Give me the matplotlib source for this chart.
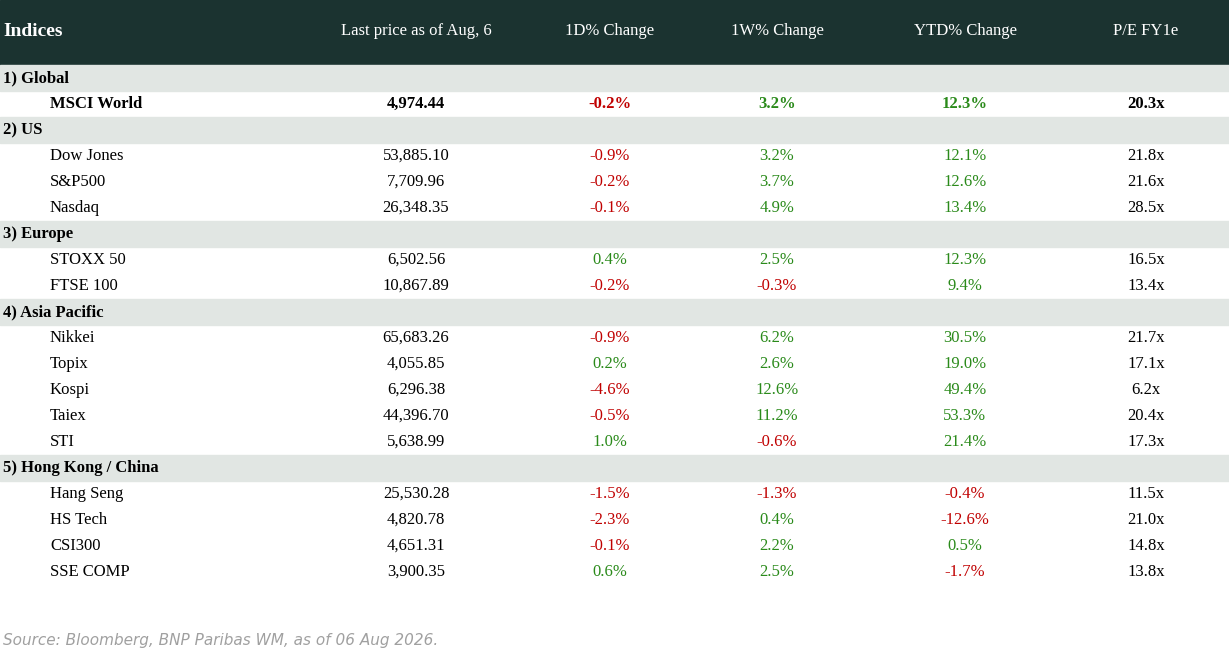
import matplotlib.pyplot as plt

plt.rcParams['font.family'] = ['Liberation Serif', 'DejaVu Serif']

headers = ['Indices', 'Last price as of Aug, 6', '1D% Change', '1W% Change', 'YTD% Change', 'P/E FY1e']
groups = ['1) Global', '2) US', '3) Europe', '4) Asia Pacific', '5) Hong Kong / China']
names = [['MSCI World'],
         ['Dow Jones', 'S&P500', 'Nasdaq'],
         ['STOXX 50', 'FTSE 100'],
         ['Nikkei', 'Topix', 'Kospi', 'Taiex', 'STI'],
         ['Hang Seng', 'HS Tech', 'CSI300', 'SSE COMP']]
prices = [[4974.44], [53885.10, 7709.96, 26348.35], [6502.56, 10867.89],
          [65683.26, 4055.85, 6296.38, 44396.70, 5638.99],
          [25530.28, 4820.78, 4651.31, 3900.35]]
chg_1d = [[-0.2], [-0.9, -0.2, -0.1], [0.4, -0.2], [-0.9, 0.2, -4.6, -0.5, 1.0], [-1.5, -2.3, -0.1, 0.6]]
chg_1w = [[3.2], [3.2, 3.7, 4.9], [2.5, -0.3], [6.2, 2.6, 12.6, 11.2, -0.6], [-1.3, 0.4, 2.2, 2.5]]
chg_ytd = [[12.3], [12.1, 12.6, 13.4], [12.3, 9.4], [30.5, 19.0, 49.4, 53.3, 21.4], [-0.4, -12.6, 0.5, -1.7]]
pe = [[20.3], [21.8, 21.6, 28.5], [16.5, 13.4], [21.7, 17.1, 6.2, 20.4, 17.3], [11.5, 21.0, 14.8, 13.8]]

W, H = 1229, 663
fig = plt.figure(figsize=(W / 100, H / 100), dpi=100)
ax = fig.add_axes([0, 0, 1, 1])
ax.set_xlim(0, W)
ax.set_ylim(H, 0)
ax.axis('off')

dark = '#1b3330'
grey = '#e1e6e3'
red = '#c00000'
green = '#2a8a1a'
col_x = [416, 610, 777, 965, 1146]
fs = 12

ax.add_patch(plt.Rectangle((0, 0), W, 65, color=dark))
ax.text(3, 31, headers[0], color='white', fontsize=14, fontweight='bold', va='center')
for x, h in zip(col_x, headers[1:]):
    ax.text(x, 31, h, color='white', fontsize=fs, ha='center', va='center')

def pct_color(v):
    return red if v < 0 else green

y = 65
rh = 26
for g in range(len(groups)):
    ax.add_patch(plt.Rectangle((0, y), W, rh, color=grey))
    ax.text(3, y + rh / 2, groups[g], fontsize=fs, fontweight='bold', va='center')
    y += rh
    for i in range(len(names[g])):
        bold = 'bold' if g == 0 else 'normal'
        cy = y + rh / 2
        ax.text(50, cy, names[g][i], fontsize=fs, fontweight=bold, va='center')
        ax.text(col_x[0], cy, f'{prices[g][i]:,.2f}', fontsize=fs, fontweight=bold, ha='center', va='center')
        for x, arr in zip(col_x[1:4], [chg_1d, chg_1w, chg_ytd]):
            v = arr[g][i]
            ax.text(x, cy, f'{v:.1f}%', fontsize=fs, fontweight=bold, ha='center', va='center', color=pct_color(v))
        ax.text(col_x[4], cy, f'{pe[g][i]:.1f}x', fontsize=fs, fontweight=bold, ha='center', va='center')
        y += rh

ax.text(3, 641, 'Source: Bloomberg, BNP Paribas WM, as of 06 Aug 2026.', fontsize=11, style='italic',
        color='#a0a0a0', va='center', family=['DejaVu Sans'])

fig.savefig('out.png', dpi=100)
